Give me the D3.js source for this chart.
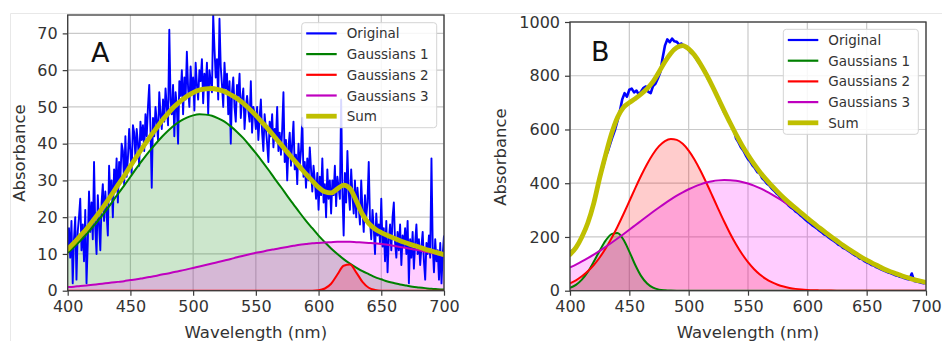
<!DOCTYPE html>
<html>
<head>
<meta charset="utf-8">
<script src="https://cdn.jsdelivr.net/npm/d3@7"></script>
<style>
  body { margin: 0; background: #fff; }
  svg { display: block; font-family: "DejaVu Sans", sans-serif; }
</style>
</head>
<body>
<svg id="chart" width="942" height="341"></svg>
<script>
// sampling grids (nm)
const wl5 = d3.range(400, 701, 5)
const wlRawA = d3.range(400, 701, 1)
const wlRawB = d3.range(400, 701, 2)

const xTicks = [400, 450, 500, 550, 600, 650, 700]
const yTicksA = [0, 10, 20, 30, 40, 50, 60, 70]
const yTicksB = [0, 200, 400, 600, 800, 1000]
const legendNames = ['Original', 'Gaussians 1', 'Gaussians 2', 'Gaussians 3', 'Sum']

// ---- panel A ----
const origA = [
  12, 17, 9, 19, 2, 14, 20, 3, 16, 20,
  25, 11, 18, 8, 22, 2, 13, 27, 16, 24,
  14, 35, 17, 10, 26, 18, 11, 24, 29, 19,
  27, 21, 15, 34, 25, 30, 20, 33, 28, 36,
  24, 35, 30, 40, 38, 29, 42, 31, 36, 44,
  38, 32, 45, 43, 36, 44, 40, 34, 46, 41,
  45, 38, 48, 42, 50, 56, 44, 28, 47, 42,
  50, 46, 41, 54, 48, 44, 52, 46, 55, 50,
  45, 71, 52, 48, 56, 42, 54, 50, 40, 57,
  53, 60, 48, 58, 52, 65, 55, 50, 61, 54,
  58, 49, 62, 56, 52, 60, 57, 63, 51, 59,
  55, 62, 48, 60, 57, 54, 75, 66, 58, 63,
  52, 74, 61, 56, 50, 62, 55, 59, 48, 57,
  40, 54, 58, 50, 46, 56, 53, 59, 47, 52,
  55, 44, 50, 53, 49, 46, 57, 43, 50, 48,
  44, 50, 41, 47, 52, 43, 38, 48, 44, 40,
  35, 46, 42, 48, 39, 44, 41, 50, 38, 43,
  37, 44, 54, 35, 41, 30, 39, 43, 34, 40,
  46, 33, 37, 29, 40, 34, 38, 47, 31, 35,
  28, 36, 30, 39, 33, 27, 34, 30, 25, 32,
  22, 31, 26, 36, 24, 29, 20, 33, 25, 30,
  21, 30, 26, 34, 23, 31, 28, 25, 52, 27,
  15, 32, 24, 38, 27, 22, 33, 26, 21, 30,
  20, 28, 23, 18, 30, 22, 16, 26, 20, 24,
  35, 19, 14, 22, 17, 10, 21, 15, 18, 13,
  25, 12, 17, 8, 19, 5, 14, 18, 11, 20,
  24, 13, 9, 16, 11, 18, 7, 15, 12, 17,
  10, 19, 2, 14, 9, 16, 6, 13, 18, 10,
  14, 7, 12, 16, 8, 3, 13, 10, 15, 9,
  36, 12, 5, 14, 8, 11, 3, 13, 2, 10,
  15
]
const g1A = [
  10.3, 11.9, 13.6, 15.4, 17.4, 19.4, 21.6, 23.9, 26.3, 28.6,
  31.0, 33.4, 35.7, 37.9, 39.9, 41.8, 43.5, 45.0, 46.2, 47.1,
  47.7, 48.0, 47.9, 47.6, 46.9, 46.0, 44.7, 43.2, 41.5, 39.5,
  37.4, 35.2, 32.9, 30.5, 28.2, 25.8, 23.5, 21.2, 19.0, 17.0,
  15.0, 13.2, 11.5, 10.0, 8.6, 7.4, 6.3, 5.3, 4.5, 3.7,
  3.1, 2.5, 2.1, 1.7, 1.4, 1.1, 0.9, 0.7, 0.5, 0.4,
  0.3
]
const g2A = [
  0, 0, 0, 0, 0, 0, 0, 0, 0, 0,
  0, 0, 0, 0, 0, 0, 0, 0, 0, 0,
  0, 0, 0, 0, 0, 0, 0, 0, 0, 0,
  0, 0, 0, 0, 0, 0, 0, 0, 0, 0,
  0.1, 0.6, 1.9, 4.4, 6.8, 7.1, 5.0, 2.4, 0.8, 0.2,
  0, 0, 0, 0, 0, 0, 0, 0, 0, 0,
  0
]
const g3A = [
  1.0, 1.1, 1.3, 1.4, 1.6, 1.8, 2.0, 2.2, 2.4, 2.6,
  2.9, 3.1, 3.4, 3.7, 4.0, 4.4, 4.7, 5.1, 5.4, 5.8,
  6.2, 6.6, 7.0, 7.4, 7.8, 8.2, 8.6, 9.1, 9.5, 9.9,
  10.3, 10.6, 11.0, 11.3, 11.6, 11.9, 12.2, 12.5, 12.7, 12.9,
  13.0, 13.1, 13.2, 13.3, 13.3, 13.3, 13.2, 13.1, 13.0, 12.9,
  12.7, 12.5, 12.2, 11.9, 11.6, 11.3, 11.0, 10.6, 10.3, 9.9,
  9.5
]
const sumA = [
  11.3, 13.0, 14.9, 16.8, 19.0, 21.2, 23.6, 26.1, 28.7, 31.2,
  33.9, 36.5, 39.1, 41.6, 43.9, 46.2, 48.2, 50.1, 51.6, 52.9,
  53.9, 54.6, 54.9, 55.0, 54.7, 54.2, 53.3, 52.3, 51.0, 49.4,
  47.7, 45.8, 43.9, 41.8, 39.8, 37.7, 35.7, 33.7, 31.7, 29.9,
  28.1, 26.9, 26.6, 27.7, 28.7, 27.8, 24.5, 20.8, 18.3, 16.8,
  15.8, 15.0, 14.3, 13.6, 13.0, 12.4, 11.9, 11.3, 10.8, 10.3,
  9.8
]

// ---- panel B ----
const origB = [
  142, 150, 152, 170, 180, 204, 218, 245, 262, 300,
  320, 368, 395, 440, 462, 498, 520, 548, 575, 600,
  632, 668, 712, 735, 722, 748, 752, 738, 745, 730,
  742, 755, 760, 740, 735, 762, 770, 790, 812, 865,
  912, 935, 925, 938, 928, 926, 916, 920, 910, 903,
  898, 885, 880, 866, 852, 840, 826, 818, 790, 775,
  763, 740, 722, 700, 682, 662, 648, 630, 612, 600,
  566, 552, 534, 522, 505, 490, 480, 465, 455, 441,
  436, 418, 410, 398, 392, 380, 372, 362, 355, 344,
  334, 328, 318, 310, 305, 295, 290, 281, 274, 266,
  258, 252, 244, 238, 232, 224, 218, 210, 206, 198,
  192, 186, 180, 172, 168, 160, 156, 150, 144, 138,
  132, 128, 120, 118, 110, 106, 102, 96, 94, 88,
  84, 80, 76, 72, 68, 66, 62, 58, 56, 52,
  50, 46, 44, 42, 64, 36, 34, 32, 30, 28,
  30
]
const g1B = [
  10.5, 21.9, 41.2, 70.0, 107.5, 148.9, 186.4, 210.6, 214.6, 190.4,
  145.5, 95.8, 54.3, 26.6, 11.2, 4.0, 1.3, 0.3, 0.1, 0,
  0, 0, 0, 0, 0, 0, 0, 0, 0, 0,
  0, 0, 0, 0, 0, 0, 0, 0, 0, 0,
  0, 0, 0, 0, 0, 0, 0, 0, 0, 0,
  0, 0, 0, 0, 0, 0, 0, 0, 0, 0,
  0
]
const g2B = [
  27.6, 38.8, 53.5, 72.2, 95.5, 123.7, 157.1, 195.4, 238.2, 284.5,
  332.9, 381.7, 428.8, 471.9, 508.9, 537.8, 556.8, 564.8, 561.3, 546.6,
  521.5, 487.6, 446.6, 400.9, 352.5, 303.7, 256.4, 212.1, 171.9, 136.4,
  106.2, 80.9, 60.4, 44.2, 31.7, 22.3, 15.3, 10.3, 6.8, 4.4,
  2.8, 1.7, 1.1, 0.6, 0.4, 0.2, 0.1, 0, 0, 0,
  0, 0, 0, 0, 0, 0, 0, 0, 0, 0,
  0
]
const g3B = [
  86.6, 97.3, 108.9, 121.3, 134.4, 148.4, 163.0, 178.3, 194.1, 210.3,
  226.9, 243.7, 260.5, 277.3, 293.8, 309.8, 325.2, 339.9, 353.6, 366.2,
  377.5, 387.5, 395.8, 402.5, 407.5, 410.6, 412.0, 411.4, 409.0, 404.7,
  398.7, 391.0, 381.7, 370.9, 358.8, 345.5, 331.1, 316.1, 300.5, 284.2,
  267.6, 250.7, 233.9, 217.1, 200.6, 184.5, 168.9, 154.0, 139.6, 126.1,
  113.6, 101.5, 90.6, 80.4, 71.0, 62.6, 54.8, 47.8, 41.3, 35.6,
  30.6
]
const sumB = [
  135, 160, 200, 252, 325, 420, 505, 584, 645, 682,
  700, 715, 732, 752, 778, 814, 852, 884, 905, 912,
  900, 876, 843, 804, 761, 715, 669, 624, 581, 541,
  505, 472, 442, 415, 391, 368, 346, 326, 307, 289,
  270, 252, 235, 218, 201, 185, 169, 154, 140, 126,
  114, 102, 91, 80, 71, 63, 55, 48, 41, 36,
  31
]

const colors = {
  orig: '#0000ff',
  g1: '#008000',
  g2: '#ff0000',
  g3: '#bf00bf',
  sum: '#bfbf00',
}
const fills = { g1: '#008000', g2: '#ff0000', g3: '#ff00ff' }

const svg = d3.select('#chart')

// faint frame of the source figure
svg.append('path')
  .attr('d', 'M10.5,341 V13.5 H942')
  .attr('fill', 'none')
  .attr('stroke', '#e8e8e8')
  .attr('stroke-width', 1)

const drawPanel = (cfg, data) => {
  const { left, right, top, bottom, yMax, yTicks, letter, id } = cfg
  const x = d3.scaleLinear().domain([400, 700]).range([left, right])
  const y = d3.scaleLinear().domain([0, yMax]).range([bottom, top])

  const g = svg.append('g').attr('id', 'panel' + id)

  g.append('clipPath').attr('id', 'clip' + id)
    .append('rect')
    .attr('x', left).attr('y', top)
    .attr('width', right - left).attr('height', bottom - top)

  // grid
  const grid = g.append('g').attr('stroke', '#c9c9c9').attr('stroke-width', 1.2)
  grid.selectAll('.gx').data(xTicks).enter().append('line')
    .attr('x1', (d) => x(d)).attr('x2', (d) => x(d))
    .attr('y1', top).attr('y2', bottom)
  grid.selectAll('.gy').data(yTicks).enter().append('line')
    .attr('x1', left).attr('x2', right)
    .attr('y1', (d) => y(d)).attr('y2', (d) => y(d))

  const body = g.append('g').attr('clip-path', `url(#clip${id})`)

  const comps = [
    { key: 'g1', vals: data.g1 },
    { key: 'g2', vals: data.g2 },
    { key: 'g3', vals: data.g3 },
  ]

  const area = d3.area()
    .x((d) => x(d[0]))
    .y0(y(0))
    .y1((d) => y(d[1]))
    .curve(d3.curveMonotoneX)

  comps.forEach((c) => {
    body.append('path')
      .datum(wl5.map((w, i) => [w, c.vals[i]]))
      .attr('d', area)
      .attr('fill', fills[c.key])
      .attr('fill-opacity', 0.2)
  })

  const rawLine = d3.line().x((d) => x(d[0])).y((d) => y(d[1]))
  body.append('path')
    .datum(data.wlRaw.map((w, i) => [w, data.orig[i]]))
    .attr('d', rawLine)
    .attr('fill', 'none')
    .attr('stroke', colors.orig)
    .attr('stroke-width', cfg.rawWidth)
    .attr('stroke-linejoin', 'round')

  const smooth = d3.line()
    .x((d) => x(d[0]))
    .y((d) => y(d[1]))
    .curve(d3.curveMonotoneX)

  comps.forEach((c) => {
    body.append('path')
      .datum(wl5.map((w, i) => [w, c.vals[i]]))
      .attr('d', smooth)
      .attr('fill', 'none')
      .attr('stroke', colors[c.key])
      .attr('stroke-width', 2)
  })

  body.append('path')
    .datum(wl5.map((w, i) => [w, data.sum[i]]))
    .attr('d', smooth)
    .attr('fill', 'none')
    .attr('stroke', colors.sum)
    .attr('stroke-width', 4.8)
    .attr('stroke-linecap', 'round')

  // frame
  g.append('rect')
    .attr('x', left).attr('y', top)
    .attr('width', right - left).attr('height', bottom - top)
    .attr('fill', 'none')
    .attr('stroke', '#3a3a3a')
    .attr('stroke-width', 1.3)

  // axes
  const axisX = d3.axisBottom(x).tickValues(xTicks).tickSize(5).tickPadding(5)
    .tickFormat(d3.format('d'))
  const axisY = d3.axisLeft(y).tickValues(yTicks).tickSize(5).tickPadding(5)
    .tickFormat(d3.format('d'))

  const ax = g.append('g')
    .attr('transform', `translate(0,${bottom})`)
    .call(axisX)
  const ay = g.append('g')
    .attr('transform', `translate(${left},0)`)
    .call(axisY)
  ;[ax, ay].forEach((a) => {
    a.select('.domain').remove()
    a.selectAll('line').attr('stroke', '#3a3a3a').attr('stroke-width', 1.2)
    a.selectAll('text')
      .attr('fill', '#333')
      .style('font-size', '16px')
      .style('font-family', '"DejaVu Sans", sans-serif')
  })

  // labels
  g.append('text')
    .attr('x', (left + right) / 2)
    .attr('y', 338)
    .attr('text-anchor', 'middle')
    .attr('fill', '#333')
    .style('font-size', '16.5px')
    .text('Wavelength (nm)')

  g.append('text')
    .attr('transform', `translate(${cfg.yLabelX},${cfg.yLabelY}) rotate(-90)`)
    .attr('text-anchor', 'middle')
    .attr('dominant-baseline', 'central')
    .attr('fill', '#333')
    .style('font-size', '16.5px')
    .text('Absorbance')

  g.append('text')
    .attr('x', cfg.letterX)
    .attr('y', cfg.letterY)
    .attr('fill', '#111')
    .style('font-size', '27px')
    .text(letter)

  // legend
  const lg = g.append('g').attr('transform', `translate(${cfg.legX},${cfg.legY})`)
  lg.append('rect')
    .attr('width', 135).attr('height', 105).attr('rx', 3)
    .attr('fill', '#fff').attr('fill-opacity', 0.85)
    .attr('stroke', '#d4d4d4').attr('stroke-width', 1)
  const keys = ['orig', 'g1', 'g2', 'g3', 'sum']
  const rows = lg.selectAll('.row').data(legendNames).enter().append('g')
    .attr('transform', (d, i) => `translate(0,${10.7 + i * 20.7})`)
  rows.append('line')
    .attr('x1', 4.5).attr('x2', 35)
    .attr('stroke', (d, i) => colors[keys[i]])
    .attr('stroke-width', (d, i) => (keys[i] === 'sum' ? 4.8 : 2.2))
  rows.append('text')
    .attr('x', 45)
    .attr('dominant-baseline', 'central')
    .attr('fill', '#333')
    .style('font-size', '13.5px')
    .text((d) => d)
}

drawPanel(
  {
    id: 'A', left: 67.7, right: 444, top: 15, bottom: 290.7, yMax: 75,
    yTicks: yTicksA, letter: 'A', letterX: 91, letterY: 62,
    yLabelX: 19, yLabelY: 153, legX: 301.7, legY: 22.7, rawWidth: 1.9,
  },
  { wlRaw: wlRawA, orig: origA, g1: g1A, g2: g2A, g3: g3A, sum: sumA }
)

drawPanel(
  {
    id: 'B', left: 570, right: 926, top: 22, bottom: 290.7, yMax: 1000,
    yTicks: yTicksB, letter: 'B', letterX: 591, letterY: 61,
    yLabelX: 500, yLabelY: 157, legX: 783.3, legY: 29.3, rawWidth: 2.6,
  },
  { wlRaw: wlRawB, orig: origB, g1: g1B, g2: g2B, g3: g3B, sum: sumB }
)
</script>
</body>
</html>
